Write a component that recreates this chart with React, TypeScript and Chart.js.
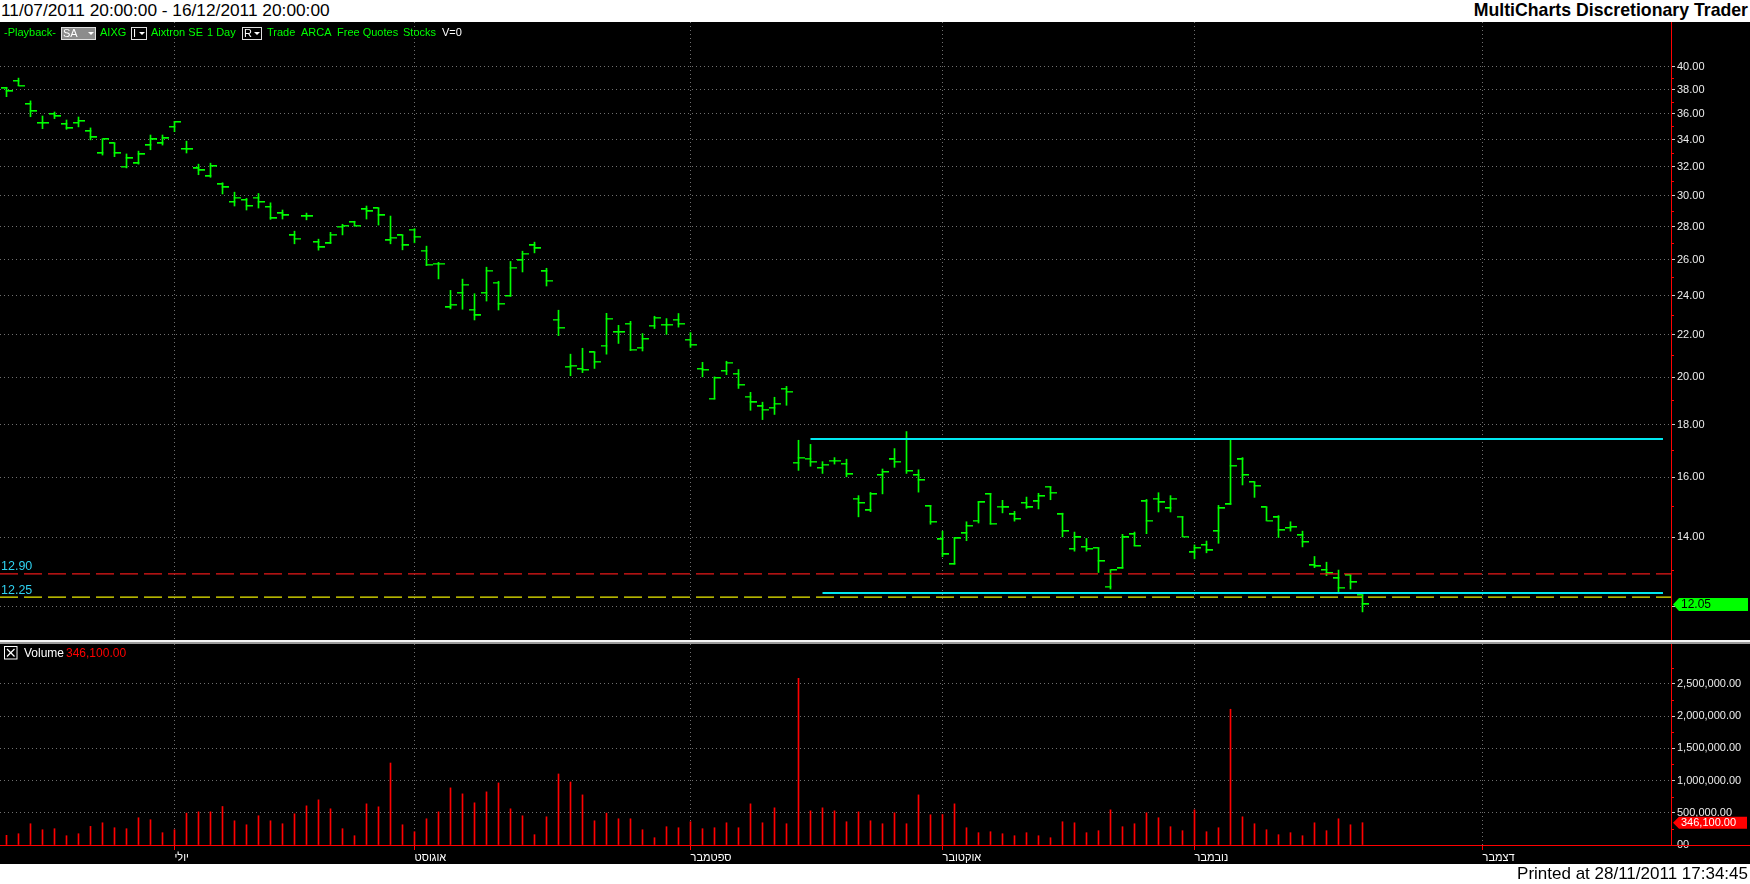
import React, { useEffect, useRef } from "react";
import { Chart, registerables } from "chart.js";

Chart.register(...registerables);

// ---------- data ----------
const monthTicks = [14, 34, 57, 78, 99, 123];
const monthLabels = ["יולי", "אוגוסט", "ספטמבר", "אוקטובר", "נובמבר", "דצמבר"];

const openPrices = [
  38.11, 38.75, 36.79, 35.26, 35.98, 35.18, 35.28, 34.63, 32.97, 33.7,
  32.0, 32.23, 33.56, 33.7, 34.97, 33.28, 31.87, 31.31, 30.76, 29.57,
  29.71, 29.87, 29.25, 28.83, 27.45, 28.64, 27.04, 26.96, 27.99, 28.27,
  29.09, 29.16, 27.14, 27.45, 27.81, 26.54, 25.78, 23.38, 24.15, 23.26,
  24.15, 24.71, 23.98, 25.96, 26.84, 25.33, 22.75, 20.48, 20.38, 21.14,
  21.47, 22.12, 22.54, 21.37, 22.44, 22.49, 22.75, 21.75, 20.38, 19.07,
  20.29, 20.16, 19.16, 18.74, 18.69, 19.5, 16.53, 16.68, 16.34, 16.61,
  16.49, 15.26, 14.86, 16.08, 16.65, 17.43, 16.08, 15.0, 13.93, 13.18,
  14.12, 14.53, 15.41, 14.99, 14.73, 15.11, 15.16, 15.67, 14.73, 13.64,
  13.7, 13.67, 12.54, 13.06, 14.09, 15.16, 15.26, 14.93, 14.66, 13.53,
  13.76, 14.19, 15.06, 16.65, 15.83, 14.96, 14.63, 14.29, 14.06, 13.15,
  13.01, 12.77, 12.86, 12.31,
];
const highPrices = [
  38.2, 38.99, 37.06, 35.83, 36.15, 35.51, 35.75, 34.89, 34.02, 33.7,
  32.92, 33.13, 34.34, 34.34, 35.39, 33.87, 32.18, 32.25, 30.87, 30.23,
  29.81, 30.14, 29.52, 29.05, 27.71, 28.85, 27.22, 27.64, 28.14, 28.33,
  29.31, 29.16, 28.66, 27.45, 27.87, 26.8, 25.85, 24.28, 24.9, 24.1,
  25.57, 24.78, 25.9, 26.5, 27.04, 25.51, 23.23, 21.06, 21.34, 21.14,
  23.07, 22.46, 22.66, 22.05, 22.92, 22.8, 23.06, 22.1, 20.68, 20.02,
  20.73, 20.35, 19.34, 18.92, 19.13, 19.6, 17.38, 17.22, 16.57, 16.72,
  16.66, 15.36, 15.47, 16.3, 17.06, 17.72, 16.27, 15.03, 14.19, 13.99,
  14.49, 15.16, 15.44, 15.2, 14.83, 15.31, 15.44, 15.67, 14.77, 14.16,
  13.96, 13.67, 13.01, 14.09, 14.16, 15.23, 15.46, 15.36, 14.66, 13.76,
  13.88, 15.03, 17.39, 16.72, 15.83, 14.96, 14.69, 14.49, 14.19, 13.41,
  13.24, 13.01, 12.86, 12.31,
];
const lowPrices = [
  37.41, 38.34, 35.77, 34.83, 35.62, 34.78, 34.97, 33.97, 32.84, 32.72,
  31.91, 32.18, 33.23, 33.58, 34.6, 32.99, 31.43, 31.25, 30.11, 29.31,
  29.05, 29.18, 28.45, 28.47, 26.94, 28.42, 26.56, 26.96, 27.48, 28.03,
  28.47, 28.09, 26.94, 26.58, 27.0, 25.66, 24.91, 23.3, 23.28, 22.73,
  23.71, 23.24, 23.96, 25.3, 26.4, 24.52, 21.95, 20.07, 20.21, 20.4,
  21.06, 21.57, 21.23, 21.21, 22.3, 22.01, 22.37, 21.38, 20.02, 19.05,
  20.12, 19.51, 18.58, 18.2, 18.41, 18.79, 16.25, 16.4, 16.14, 16.48,
  16.02, 14.65, 14.82, 15.42, 16.36, 16.14, 15.48, 14.41, 13.4, 13.18,
  13.89, 14.45, 14.41, 14.78, 14.51, 14.93, 14.91, 15.22, 14.01, 13.57,
  13.57, 12.94, 12.47, 13.06, 13.73, 14.11, 14.81, 14.81, 14.02, 13.34,
  13.52, 13.81, 15.06, 15.73, 15.3, 14.53, 13.99, 14.19, 13.7, 13.08,
  12.85, 12.38, 12.47, 11.85,
];
const closePrices = [
  37.86, 38.34, 36.21, 35.26, 35.8, 34.86, 35.42, 34.16, 34.02, 32.97,
  32.6, 32.89, 34.0, 34.08, 35.34, 33.26, 31.73, 32.03, 30.55, 29.87,
  29.31, 29.57, 28.51, 28.7, 27.26, 28.64, 26.72, 27.5, 28.05, 28.05,
  28.96, 28.7, 27.32, 26.84, 27.38, 25.72, 25.78, 23.52, 24.6, 22.96,
  25.38, 23.57, 25.55, 26.36, 26.66, 24.82, 22.34, 20.53, 20.34, 20.71,
  22.8, 22.12, 21.28, 21.79, 22.85, 22.49, 22.54, 21.51, 20.34, 19.97,
  20.67, 19.67, 18.91, 18.61, 18.86, 19.37, 16.72, 16.57, 16.46, 16.61,
  16.11, 15.11, 15.41, 16.19, 16.57, 16.23, 15.9, 14.49, 13.47, 13.96,
  14.36, 15.13, 14.43, 14.96, 14.58, 14.96, 15.34, 15.46, 14.19, 13.99,
  13.64, 13.27, 13.01, 13.99, 13.73, 14.53, 15.13, 15.26, 14.02, 13.67,
  13.59, 14.93, 16.42, 16.08, 15.7, 14.53, 14.22, 14.32, 13.85, 13.12,
  12.92, 12.51, 12.66, 12.05,
];
const volumes = [
  150000, 175000, 330000, 237000, 253000, 144000, 175000, 289000, 345000, 268000,
  253000, 423000, 392000, 191000, 237000, 495000, 515000, 515000, 598000, 376000,
  314000, 454000, 376000, 330000, 485000, 608000, 701000, 562000, 253000, 144000,
  639000, 593000, 1273000, 314000, 206000, 407000, 515000, 887000, 794000, 655000,
  825000, 964000, 562000, 454000, 160000, 438000, 1103000, 979000, 778000, 376000,
  495000, 407000, 407000, 237000, 113000, 284000, 268000, 361000, 253000, 268000,
  345000, 268000, 639000, 345000, 577000, 330000, 2588000, 531000, 577000, 531000,
  361000, 515000, 376000, 330000, 500000, 330000, 778000, 469000, 474000, 639000,
  268000, 191000, 206000, 175000, 144000, 191000, 144000, 113000, 361000, 345000,
  191000, 222000, 546000, 284000, 330000, 500000, 423000, 284000, 222000, 546000,
  206000, 268000, 2108000, 438000, 330000, 237000, 160000, 191000, 144000, 345000,
  222000, 407000, 314000, 346100,
];

const priceTicks = [12, 14, 16, 18, 20, 22, 24, 26, 28, 30, 32, 34, 36, 38, 40];
const priceMinorTicks = [13, 15, 17, 19, 21, 23, 25, 27, 29, 31, 33, 35, 37, 39];
const volumeTicks = [0, 500000, 1000000, 1500000, 2000000, 2500000];
const volumeMinorTicks = [250000, 750000, 1250000, 1750000, 2250000, 2750000];

const levelValues = [12.9, 12.25];
const channelTopValue = 17.43;
const channelBottomValue = 12.36;
const channelTopStart = 67;
const channelBottomStart = 68;
const channelEnd = 138.04;

// ---------- layout / style constants ----------
const W = 1750;
const AXIS_W = 79;
const X_MIN = -0.5417;
const X_MAX = X_MIN + (W - AXIS_W) / 12;
const PRICE_MIN = 11.13;
const PRICE_MAX = 44.19;
const VOL_MAX = 3121000;
const GREEN = "#00ff00";
const GRID = "#707070";
const FONT = '"Liberation Sans", Arial, sans-serif';

function makeTickImage(side: "left" | "right") {
  const c = document.createElement("canvas");
  c.width = 12;
  c.height = 2;
  const g = c.getContext("2d")!;
  g.fillStyle = GREEN;
  if (side === "left") g.fillRect(0, 0, 6.5, 1.5);
  else g.fillRect(5.5, 0, 6.5, 1.5);
  return c;
}

const fmtVol = (v: number) =>
  v === 0
    ? "00"
    : v.toLocaleString("en-US", { minimumFractionDigits: 2, maximumFractionDigits: 2 });

const priceExtras = {
  id: "priceExtras",
  afterDraw(chart: any) {
    const ctx = chart.ctx;
    const y = chart.scales.y;
    ctx.save();
    ctx.strokeStyle = "#ff0000";
    ctx.lineWidth = 1;
    priceMinorTicks.forEach((v) => {
      const py = Math.round(y.getPixelForValue(v)) + 0.5;
      ctx.beginPath();
      ctx.moveTo(y.left, py);
      ctx.lineTo(y.left + 3, py);
      ctx.stroke();
    });
    ctx.font = `12.5px ${FONT}`;
    ctx.fillStyle = "#2fd2f0";
    ctx.textAlign = "left";
    ctx.textBaseline = "alphabetic";
    levelValues.forEach((v) => {
      ctx.fillText(v.toFixed(2), 1, y.getPixelForValue(v) - 3.5);
    });
    const last = closePrices[closePrices.length - 1];
    const py = y.getPixelForValue(last);
    const x0 = y.left + 2;
    const x1 = chart.width - 2;
    ctx.fillStyle = GREEN;
    ctx.beginPath();
    ctx.moveTo(x0, py);
    ctx.lineTo(x0 + 6, py - 6.5);
    ctx.lineTo(x1, py - 6.5);
    ctx.lineTo(x1, py + 6.5);
    ctx.lineTo(x0 + 6, py + 6.5);
    ctx.closePath();
    ctx.fill();
    ctx.fillStyle = "#000";
    ctx.font = `12px ${FONT}`;
    ctx.textBaseline = "middle";
    ctx.fillText(last.toFixed(2), x0 + 8, py + 0.5);
    ctx.restore();
  },
};

const volumeExtras = {
  id: "volumeExtras",
  afterDraw(chart: any) {
    const ctx = chart.ctx;
    const y = chart.scales.y;
    ctx.save();
    ctx.strokeStyle = "#ff0000";
    ctx.lineWidth = 1;
    volumeMinorTicks.forEach((v) => {
      const py = Math.round(y.getPixelForValue(v)) + 0.5;
      ctx.beginPath();
      ctx.moveTo(y.left, py);
      ctx.lineTo(y.left + 3, py);
      ctx.stroke();
    });
    const last = volumes[volumes.length - 1];
    const py = y.getPixelForValue(last);
    const x0 = y.left + 2;
    const x1 = chart.width - 3;
    ctx.fillStyle = "#ff0000";
    ctx.beginPath();
    ctx.moveTo(x0, py);
    ctx.lineTo(x0 + 6, py - 6);
    ctx.lineTo(x1, py - 6);
    ctx.lineTo(x1, py + 6);
    ctx.lineTo(x0 + 6, py + 6);
    ctx.closePath();
    ctx.fill();
    ctx.fillStyle = "#ffffff";
    ctx.font = `11px ${FONT}`;
    ctx.textAlign = "left";
    ctx.textBaseline = "middle";
    ctx.fillText(fmtVol(last), x0 + 8, py + 0.5);
    ctx.restore();
  },
};

export default function App() {
  const priceRef = useRef<HTMLCanvasElement>(null);
  const volRef = useRef<HTMLCanvasElement>(null);

  useEffect(() => {
    const openImg = makeTickImage("left");
    const closeImg = makeTickImage("right");
    const idx = closePrices.map((_, i) => i);

    const priceChart = new Chart(priceRef.current!, {
      type: "bar",
      data: {
        datasets: [
          {
            type: "line",
            data: [
              { x: channelTopStart, y: channelTopValue },
              { x: channelEnd, y: channelTopValue },
            ],
            borderColor: "#00e8f0",
            borderWidth: 2,
            pointRadius: 0,
            order: 1,
          },
          {
            type: "line",
            data: [
              { x: channelBottomStart, y: channelBottomValue },
              { x: channelEnd, y: channelBottomValue },
            ],
            borderColor: "#00e8f0",
            borderWidth: 2,
            pointRadius: 0,
            order: 1,
          },
          {
            type: "line",
            data: [
              { x: X_MIN, y: levelValues[0] },
              { x: X_MAX, y: levelValues[0] },
            ],
            borderColor: "#e81818",
            borderWidth: 1.3,
            borderDash: [18, 6],
            pointRadius: 0,
            order: 1,
          },
          {
            type: "line",
            data: [
              { x: X_MIN, y: levelValues[1] },
              { x: X_MAX, y: levelValues[1] },
            ],
            borderColor: "#eeee00",
            borderWidth: 1.3,
            borderDash: [18, 6],
            pointRadius: 0,
            order: 1,
          },
          {
            type: "bar",
            data: idx.map((i) => ({ x: i, y: [lowPrices[i], highPrices[i]] })) as any,
            backgroundColor: GREEN,
            borderWidth: 0,
            barThickness: 1,
            grouped: false,
            order: 3,
          } as any,
          {
            type: "line",
            data: idx.map((i) => ({ x: i, y: openPrices[i] })),
            showLine: false,
            pointStyle: openImg as any,
            pointRadius: 3,
            order: 2,
          },
          {
            type: "line",
            data: idx.map((i) => ({ x: i, y: closePrices[i] })),
            showLine: false,
            pointStyle: closeImg as any,
            pointRadius: 3,
            order: 2,
          },
        ] as any,
      },
      options: {
        animation: false,
        responsive: false,
        devicePixelRatio: 1,
        layout: { padding: 0, autoPadding: false },
        plugins: { legend: { display: false }, tooltip: { enabled: false } },
        events: [],
        scales: {
          x: {
            type: "linear",
            min: X_MIN,
            max: X_MAX,
            offset: false,
            position: "bottom",
            grid: { color: GRID, drawTicks: false, offset: false },
            border: { display: false, dash: [1, 3] },
            ticks: { display: false },
            afterBuildTicks: (s: any) => {
              s.ticks = monthTicks.map((v) => ({ value: v }));
            },
            afterFit: (s: any) => {
              s.height = 0;
              s.paddingLeft = 0;
              s.paddingRight = 0;
            },
          },
          y: {
            type: "logarithmic",
            position: "right",
            min: PRICE_MIN,
            max: PRICE_MAX,
            bounds: "data",
            grid: { color: GRID, tickColor: "#c8c8c8", tickLength: 4, tickBorderDash: [] },
            border: { display: true, color: "#ff0000", width: 1, dash: [1, 3] },
            ticks: {
              color: "#ececec",
              font: { family: FONT, size: 11 },
              padding: 2,
              autoSkip: false,
              callback: (v: any) => Number(v).toFixed(2),
            },
            afterBuildTicks: (s: any) => {
              s.ticks = priceTicks.map((v) => ({ value: v }));
            },
            afterFit: (s: any) => {
              s.width = AXIS_W;
              s.paddingTop = 0;
              s.paddingBottom = 0;
            },
          },
        },
      } as any,
      plugins: [priceExtras],
    });

    const volChart = new Chart(volRef.current!, {
      type: "bar",
      data: {
        datasets: [
          {
            data: idx.map((i) => ({ x: i, y: volumes[i] })),
            backgroundColor: "#ff0000",
            borderWidth: 0,
            barThickness: 1,
          },
        ],
      },
      options: {
        animation: false,
        responsive: false,
        devicePixelRatio: 1,
        layout: { padding: 0, autoPadding: false },
        plugins: { legend: { display: false }, tooltip: { enabled: false } },
        events: [],
        scales: {
          x: {
            type: "linear",
            min: X_MIN,
            max: X_MAX,
            offset: false,
            position: "bottom",
            grid: { color: GRID, offset: false, tickColor: "#ff0000", tickLength: 5, tickBorderDash: [] },
            border: { display: true, color: "#ff0000", width: 1, dash: [1, 3] },
            ticks: {
              color: "#ffffff",
              font: { family: FONT, size: 11 },
              padding: 1,
              align: "start",
              autoSkip: false,
              maxRotation: 0,
              minRotation: 0,
              callback: (v: any) => {
                const k = monthTicks.indexOf(Number(v));
                return k >= 0 ? monthLabels[k] : "";
              },
            },
            afterBuildTicks: (s: any) => {
              s.ticks = monthTicks.map((v) => ({ value: v }));
            },
            afterFit: (s: any) => {
              s.height = 19;
              s.paddingLeft = 0;
              s.paddingRight = 0;
            },
          },
          y: {
            type: "linear",
            position: "right",
            min: 0,
            max: VOL_MAX,
            bounds: "data",
            grid: { color: GRID, tickColor: "#c8c8c8", tickLength: 4, tickBorderDash: [] },
            border: { display: true, color: "#ff0000", width: 1, dash: [1, 3] },
            ticks: {
              color: "#ececec",
              font: { family: FONT, size: 11 },
              padding: 2,
              autoSkip: false,
              callback: (v: any) => fmtVol(Number(v)),
            },
            afterBuildTicks: (s: any) => {
              s.ticks = volumeTicks.map((v) => ({ value: v }));
            },
            afterFit: (s: any) => {
              s.width = AXIS_W;
              s.paddingTop = 0;
              s.paddingBottom = 0;
            },
          },
        },
      } as any,
      plugins: [volumeExtras],
    });

    return () => {
      priceChart.destroy();
      volChart.destroy();
    };
  }, []);

  const toolText = (left: number, text: string, color = "#00ff00") => (
    <span
      style={{
        position: "absolute",
        left,
        top: 26,
        fontSize: 11,
        lineHeight: "13px",
        color,
        whiteSpace: "nowrap",
      }}
    >
      {text}
    </span>
  );

  const tri = (
    <span
      style={{
        display: "inline-block",
        width: 0,
        height: 0,
        borderLeft: "3px solid transparent",
        borderRight: "3px solid transparent",
        borderTop: "3px solid #ffffff",
        verticalAlign: "middle",
      }}
    />
  );

  const dropBox = (left: number, width: number, label: string, bg: string) => (
    <span
      style={{
        position: "absolute",
        left,
        top: 27,
        width: width - 2,
        height: 11,
        border: "1px solid #e0e0e0",
        background: bg,
        color: "#fff",
        fontSize: 11,
        lineHeight: "11px",
        display: "flex",
        alignItems: "center",
        justifyContent: "space-between",
        paddingLeft: 1,
        paddingRight: 1,
        boxSizing: "content-box" as const,
      }}
    >
      <span>{label}</span>
      {tri}
    </span>
  );

  const lastVol = volumes[volumes.length - 1];

  return (
    <div
      style={{
        position: "fixed",
        left: 0,
        top: 0,
        width: W,
        height: 884,
        background: "#ffffff",
        overflow: "hidden",
        fontFamily: FONT,
      }}
    >
      <div
        style={{
          position: "absolute",
          left: 1,
          top: 0,
          fontSize: 17.3,
          lineHeight: "20px",
          color: "#000",
          whiteSpace: "nowrap",
        }}
      >
        11/07/2011 20:00:00 - 16/12/2011 20:00:00
      </div>
      <div
        style={{
          position: "absolute",
          right: 2,
          top: 0,
          fontSize: 17.7,
          fontWeight: "bold",
          lineHeight: "20px",
          color: "#000",
          whiteSpace: "nowrap",
        }}
      >
        MultiCharts Discretionary Trader
      </div>
      <div style={{ position: "absolute", left: 0, top: 22, width: W, height: 842, background: "#000" }} />
      <canvas
        ref={priceRef}
        width={W}
        height={618}
        style={{ position: "absolute", left: 0, top: 22, width: W, height: 618 }}
      />
      <div style={{ position: "absolute", left: 0, top: 640, width: W, height: 2, background: "#f4f4f4" }} />
      <div style={{ position: "absolute", left: 0, top: 642, width: W, height: 2, background: "#9a9a9a" }} />
      <canvas
        ref={volRef}
        width={W}
        height={220}
        style={{ position: "absolute", left: 0, top: 644, width: W, height: 220 }}
      />
      <div style={{ position: "absolute", left: W - AXIS_W, top: 845, width: AXIS_W, height: 1, background: "#ff0000" }} />

      {toolText(4, "-Playback-")}
      {dropBox(61, 33, "SA", "#8c8c8c")}
      {toolText(100, "AIXG")}
      {dropBox(131, 14, "I", "#000")}
      {toolText(151, "Aixtron SE")}
      {toolText(207, "1 Day")}
      {dropBox(242, 18, "R", "#000")}
      {toolText(267, "Trade")}
      {toolText(301, "ARCA")}
      {toolText(337, "Free Quotes")}
      {toolText(403, "Stocks")}
      {toolText(442, "V=0", "#ffffff")}

      <svg width={14} height={14} style={{ position: "absolute", left: 4, top: 646 }}>
        <rect x={0.5} y={0.5} width={12.5} height={12.5} fill="none" stroke="#ffffff" strokeWidth={1} />
        <line x1={3} y1={3} x2={10.5} y2={10.5} stroke="#ffffff" strokeWidth={1.3} />
        <line x1={10.5} y1={3} x2={3} y2={10.5} stroke="#ffffff" strokeWidth={1.3} />
      </svg>
      <span
        style={{
          position: "absolute",
          left: 24,
          top: 646,
          fontSize: 12,
          lineHeight: "14px",
          color: "#ffffff",
          whiteSpace: "nowrap",
        }}
      >
        Volume
      </span>
      <span
        style={{
          position: "absolute",
          left: 66,
          top: 646,
          fontSize: 12,
          lineHeight: "14px",
          color: "#ff0000",
          whiteSpace: "nowrap",
        }}
      >
        {fmtVol(lastVol)}
      </span>

      <div
        style={{
          position: "absolute",
          right: 2,
          top: 864,
          fontSize: 17,
          lineHeight: "20px",
          color: "#000",
          whiteSpace: "nowrap",
        }}
      >
        Printed at 28/11/2011 17:34:45
      </div>
    </div>
  );
}
